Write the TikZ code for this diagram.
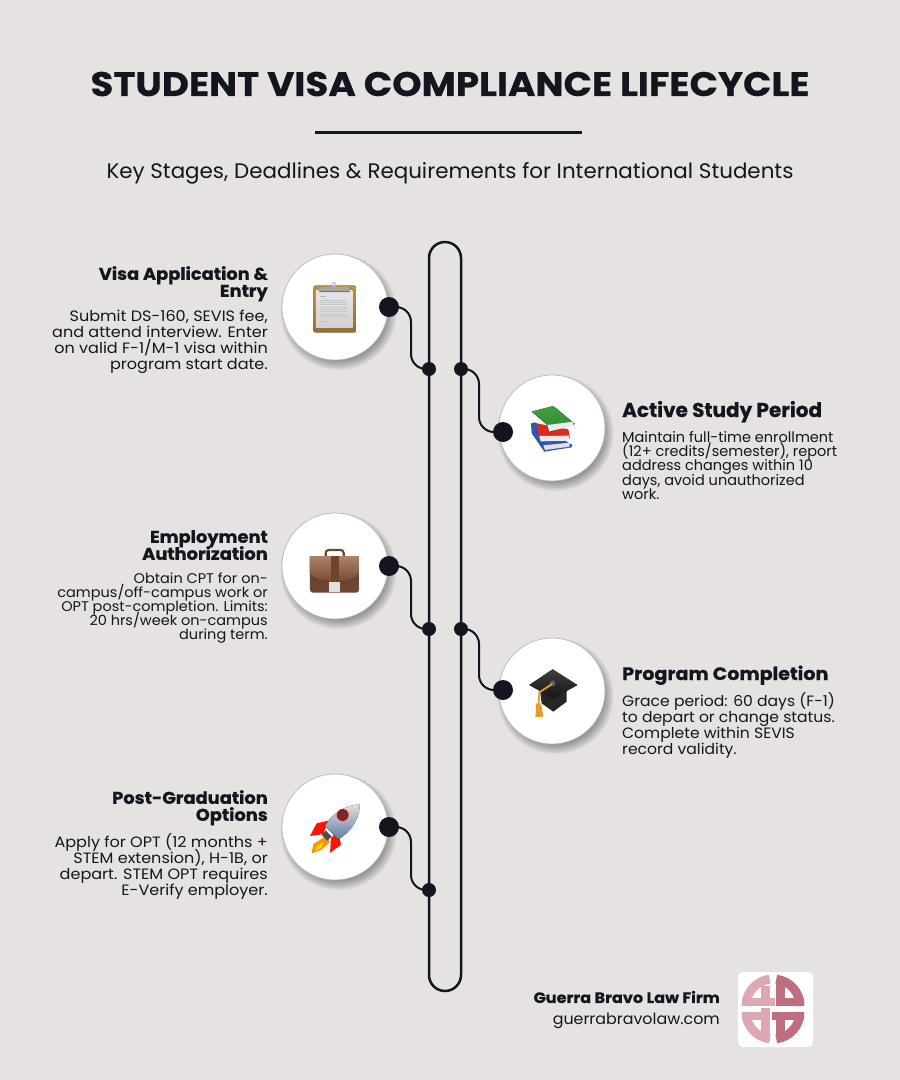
\documentclass[tikz,border=0pt]{standalone}
\usepackage{fontspec}
\setmainfont{Poppins}
\usetikzlibrary{calc}
\definecolor{bgc}{HTML}{E5E2E1}
\definecolor{ink}{HTML}{14151F}
\definecolor{logoL}{HTML}{DDA8B3}
\definecolor{logoD}{HTML}{BF6E80}
\definecolor{boardT}{HTML}{BC8E48}
\definecolor{boardB}{HTML}{94702F}
\definecolor{caseT}{HTML}{AD8468}
\definecolor{caseB}{HTML}{6E4533}
\definecolor{caseS}{HTML}{70442C}
\definecolor{bookG}{HTML}{3FA040}
\definecolor{bookGd}{HTML}{2F8A33}
\definecolor{bookR}{HTML}{E0281E}
\definecolor{bookB}{HTML}{3057B0}
\definecolor{tassel}{HTML}{E39E25}
\definecolor{hullT}{HTML}{DDE0E3}
\definecolor{hullB}{HTML}{5C7FA3}
\newcommand{\tightlines}{\lineskiplimit=-30pt\lineskip=0pt}
\newcommand{\headfont}[2]{\tightlines\fontsize{#1}{#1}\selectfont\bfseries\addfontfeature{FakeStretch=#2,FakeBold=0.6}}
\newcommand{\bodyfont}[3]{\tightlines\fontsize{#1}{#2}\selectfont\addfontfeature{FakeStretch=#3}}
\tikzset{
  x=1pt,y=-1pt,
  rail/.style={draw=ink,line width=2.5pt},
  conn/.style={draw=ink,line width=2pt,rounded corners=15pt},
  bigdot/.style={circle,fill=ink,minimum size=20pt,inner sep=0pt},
  smalldot/.style={circle,fill=ink,minimum size=14pt,inner sep=0pt},
  disc/.style={circle,fill=white,draw=black!28,line width=.7pt,minimum size=106pt,inner sep=0pt},
  lhead/.style={anchor=north east,align=right,inner sep=0pt,text=ink,font=\headfont{17}{1.05}},
  lbody/.style={anchor=north east,align=right,inner sep=0pt,text=ink,font=\bodyfont{15}{16}{1.07}},
  rhead/.style={anchor=base west,inner sep=0pt,text=ink,font=\headfont{20}{1.0}},
  rbody/.style={anchor=north west,align=left,inner sep=0pt,text=ink,font=\bodyfont{14.5}{14.3}{1.0}},
  logoarc/.style={line width=9pt},
  logobar/.style={line width=7.5pt},
  zoomed/.style={x=.3333pt,y=-.3333pt}
}
\begin{document}
\begin{tikzpicture}
\useasboundingbox (0,0) rectangle (900,1080);
\fill[bgc] (0,0) rectangle (900,1080);
% heading
\node[inner sep=0pt,text=ink,font=\headfont{34}{1.098}] (title) at (450,84) {STUDENT VISA COMPLIANCE LIFECYCLE};
\draw[ink,line width=2.5pt] (315,132.5) -- (582,132.5);
\node[inner sep=0pt,text=ink,font=\bodyfont{21}{21}{1.02}] (subtitle) at (450,173.5) {Key Stages, Deadlines \& Requirements for International Students};
% rail
\draw[rail] (429,258) arc[start angle=180,end angle=360,radius=16] -- (461,975) arc[start angle=0,end angle=180,radius=16] -- cycle;
% shadows
\foreach \cx/\cy in {335/307,552/428,335/566,552/691,335/827}{
  \foreach \r in {49,50.5,...,58}{
    \fill[black,opacity=.055] (\cx+3.5,\cy+5) circle[radius=\r];
  }
}
% discs
\node[disc] (c1) at (335,307) {};
\node[disc] (c2) at (552,428) {};
\node[disc] (c3) at (335,566) {};
\node[disc] (c4) at (552,691) {};
\node[disc] (c5) at (335,827) {};
% junctions
\node[smalldot] (j1) at (429,369) {};
\node[smalldot] (j2) at (461,369) {};
\node[smalldot] (j3) at (429,629) {};
\node[smalldot] (j4) at (461,629) {};
\node[smalldot] (j5) at (429,890) {};
% stage dots
\node[bigdot] (d1) at (389,307) {};
\node[bigdot] (d2) at (503,432) {};
\node[bigdot] (d3) at (389,566) {};
\node[bigdot] (d4) at (503,690) {};
\node[bigdot] (d5) at (389,827) {};
% connectors
\draw[conn] (d1.center) -- ++(22,0) |- (j1.center);
\draw[conn] (j2.center) -- ++(18,0) |- (d2.center);
\draw[conn] (d3.center) -- ++(22,0) |- (j3.center);
\draw[conn] (j4.center) -- ++(18,0) |- (d4.center);
\draw[conn] (d5.center) -- ++(22,0) |- (j5.center);
% clipboard
\begin{scope}[shift={(270,240)},zoomed]
  \fill[rounded corners=1.5pt,top color=boardT,bottom color=boardB] (130,137) rectangle (258,277);
  \fill[top color=white!90!black,bottom color=white!82!black] (138,150) rectangle (248,262);
  \fill[black!35] (147,156) -- (152,141) -- (235,141) -- (240,156) -- cycle;
  \fill[black!55] (147,152) rectangle (240,157);
  \draw[blue!30!white,line width=1pt] (192,134) circle[radius=6];
  \foreach \yy in {180,187,194,201,208,215,222,229}{
    \draw[black!22,line width=.5pt] (150,\yy) -- (230,\yy);
  }
  \draw[black!28,line width=.5pt] (150,168) -- (168,168);
  \draw[black!25,line width=.5pt] (150,245) -- (172,245);
\end{scope}
% books
\begin{scope}[shift={(490,370)},zoomed]
  \fill[bookB] (123,160) -- (135,157) -- (247,225) -- (245,232) -- (163,245) -- (125,190) -- cycle;
  \fill[black!12] (160,226) -- (240,218) -- (238,230) -- (165,240) -- cycle;
  \fill[bookR] (140,160) -- (235,178) -- (240,205) -- (150,215) -- cycle;
  \fill[black!8] (148,198) -- (238,197) -- (234,212) -- (152,214) -- cycle;
  \fill[top color=bookG,bottom color=bookGd] (125,125) -- (190,108) -- (255,162) -- (178,187) -- (170,163) -- cycle;
  \fill[black!8] (172,165) -- (250,155) -- (250,168) -- (178,184) -- cycle;
\end{scope}
% briefcase
\begin{scope}[shift={(275,510)},zoomed]
  \draw[caseS,line width=2.2pt,rounded corners=3pt] (152,140) -- (152,120) -- (206,120) -- (206,140);
  \fill[rounded corners=3pt,caseB] (105,138) rectangle (252,248);
  \fill[top color=caseT,bottom color=caseS] (105,138) -- (252,138) -- (252,190) .. controls (230,225) and (125,225) .. (105,190) -- cycle;
  \fill[caseS] (168,138) rectangle (192,215);
  \fill[black!12] (163,217) rectangle (195,247);
\end{scope}
% cap
\begin{scope}[shift={(490,635)},zoomed]
  \fill[black!85] (150,165) -- (230,165) -- (230,200) -- (190,230) -- (155,205) -- cycle;
  \fill[top color=black!75,bottom color=black!92] (118,150) -- (188,103) -- (262,150) -- (190,190) -- cycle;
  \fill[black!60] (188,145) circle[radius=8];
  \draw[tassel,line width=1.8pt] (185,148) -- (148,172) -- (146,206);
  \fill[tassel] (139,205) -- (153,205) -- (160,245) -- (136,247) -- cycle;
\end{scope}
% rocket
\begin{scope}[shift={(275,770)},zoomed]
  \fill[orange!85!yellow] (150,200) -- (115,222) -- (110,250) -- (138,240) -- (165,215) -- cycle;
  \fill[yellow!80!orange] (145,215) -- (125,230) -- (120,243) -- (140,232) -- cycle;
  \fill[red!85!orange] (160,152) -- (125,160) -- (105,198) -- (145,192) -- cycle;
  \fill[red!85!orange] (190,180) -- (198,225) -- (165,248) -- (168,205) -- cycle;
  \fill[black!70] (140,195) -- (153,182) -- (170,200) -- (157,212) -- cycle;
  \begin{scope}[shift={(198,160)},rotate=45]
    \fill[top color=hullT,bottom color=hullB] (-40,-28) .. controls (0,-40) and (50,-30) .. (80,0) .. controls (50,30) and (0,40) .. (-40,28) -- cycle;
  \end{scope}
  \fill[red!85!black] (203,135) circle[radius=18];
  \fill[black!75] (203,135) circle[radius=12];
\end{scope}
% left texts
\node[lhead] (h1) at (268,266) {Visa Application \&\\Entry};
\node[lbody] (b1) at (268,310) {Submit DS-160, SEVIS fee,\\and attend interview. Enter\\on valid F-1/M-1 visa within\\program start date.};
\node[lhead] (h3) at (268,530) {Employment\\Authorization};
\node[lbody,font=\bodyfont{14}{14}{1.035}] (b3) at (268,573) {Obtain CPT for on-\\campus/off-campus work or\\OPT post-completion. Limits:\\20 hrs/week on-campus\\during term.};
\node[lhead] (h5) at (268,790) {Post-Graduation\\Options};
\node[lbody] (b5) at (268,833.5) {Apply for OPT (12 months +\\STEM extension), H-1B, or\\depart. STEM OPT requires\\E-Verify employer.};
% right texts
\node[rhead] (h2) at (622,417) {Active Study Period};
\node[rbody] (b2) at (622,431) {Maintain full-time enrollment\\(12+ credits/semester), report\\address changes within 10\\days, avoid unauthorized\\work.};
\node[rhead,font=\headfont{18}{1.06}] (h4) at (622,680) {Program Completion};
\node[rbody,font=\bodyfont{15}{16}{1.04}] (b4) at (622,692.5) {Grace period: 60 days (F-1)\\to depart or change status.\\Complete within SEVIS\\record validity.};
% footer
\node[anchor=east,inner sep=0pt,text=ink,font=\headfont{15}{1.07}] (firm) at (720,997) {Guerra Bravo Law Firm};
\node[anchor=east,inner sep=0pt,text=ink,font=\bodyfont{15.5}{15.5}{1.025}] (web) at (720,1021) {guerrabravolaw.com};
% logo
\fill[white,rounded corners=5pt] (738,972) rectangle (813,1047);
\begin{scope}[shift={(773,1010)}]
  \draw[logoL,logoarc] (-27,-4) arc[start angle=180,end angle=263,radius=27];
  \draw[logoL,logobar] (-31,-8) -- (2,-8);
  \draw[logoL,line width=9pt] (-8,-24) -- (-8,-8);
  \draw[logoD,logoarc] (27,-4) arc[start angle=0,end angle=-83,radius=27];
  \draw[logoD,line width=9pt] (7.5,-31) -- (7.5,-4);
  \draw[logoD,logobar] (7,-8) -- (31,-8);
  \draw[logoL,logoarc] (-27,2) arc[start angle=180,end angle=97,radius=27];
  \draw[logoL,line width=9pt] (-8,-2) -- (-8,31);
  \draw[logoL,logobar] (-31,6) -- (-8,6);
  \draw[logoD,logoarc] (27,2) arc[start angle=0,end angle=83,radius=27];
  \draw[logoD,logobar] (-1,6) -- (31,6);
  \draw[logoD,line width=9pt] (7.5,6) -- (7.5,24);
\end{scope}
\end{tikzpicture}
\end{document}
